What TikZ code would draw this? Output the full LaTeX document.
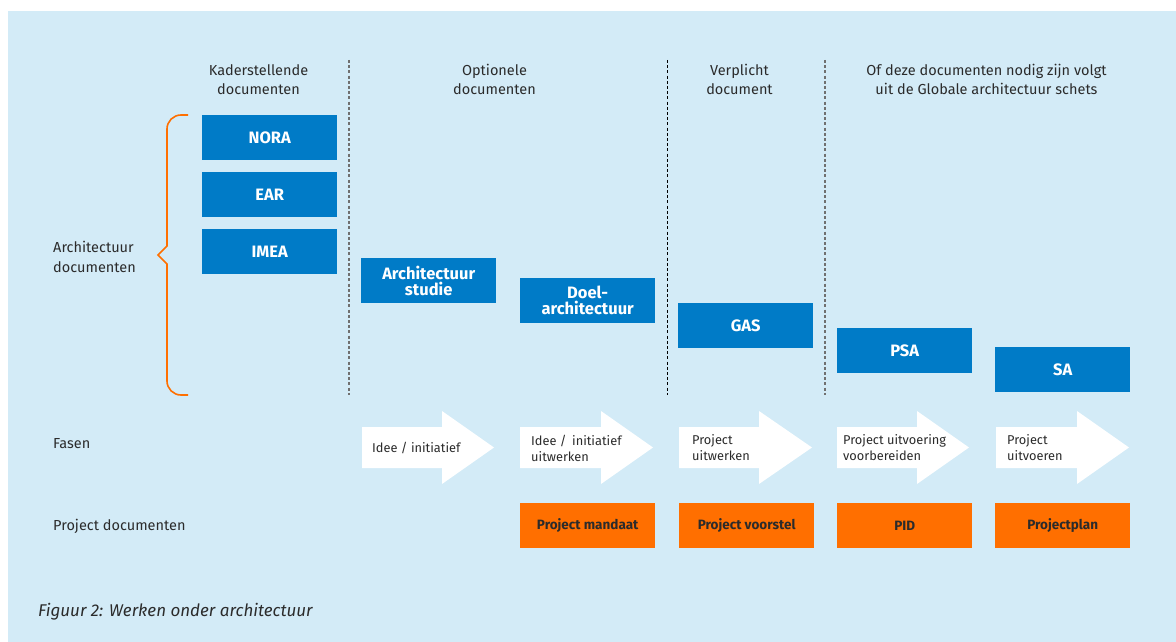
\documentclass[tikz,border=0pt]{standalone}
\usepackage{fontspec}
\setmainfont{Fira Sans}
\definecolor{bgblue}{HTML}{D3EBF7}
\definecolor{boxblue}{HTML}{007BC7}
\definecolor{boxorange}{HTML}{FF6F00}
\definecolor{txt}{HTML}{2B2B2B}
\definecolor{dashgray}{HTML}{707070}
\tikzset{
  archbox/.style={fill=boxblue, text=white, font=\fontsize{16.5}{18}\selectfont\bfseries, align=center, inner sep=0pt, minimum width=135pt, minimum height=45pt, anchor=north west},
  projbox/.style={fill=boxorange, text=txt, font=\fontsize{13.5}{15}\selectfont\bfseries, inner sep=0pt, minimum width=135pt, minimum height=45pt, anchor=north west},
  header/.style={text=txt, font=\fontsize{14.5}{19}\selectfont, align=center},
  sidelabel/.style={text=txt, font=\fontsize{14.5}{19.5}\selectfont, align=left, anchor=west, inner sep=0pt},
  phasetext/.style={text=txt, font=\fontsize{12.8}{16}\selectfont, align=left, anchor=west, inner sep=0pt},
  phasearrow/.style={fill=white, draw=none},
  divider/.style={dashgray, line width=1.2pt, dash pattern=on 3pt off 2.2pt},
  bracestyle/.style={boxorange, line width=1.6pt, line join=miter}
}
\begin{document}
\begin{tikzpicture}[x=1pt,y=-1pt]
\useasboundingbox (0,0) rectangle (1176,642);
\fill[white] (0,0) rectangle (1176,642);
\fill[bgblue] (8,11) rectangle (1176,642);

% dividers
\coordinate (d1t) at (349,60); \coordinate (d1b) at (349,395);
\coordinate (d2t) at (667.5,60); \coordinate (d2b) at (667.5,395);
\coordinate (d3t) at (825,60); \coordinate (d3b) at (825,395);
\draw[divider] (d1t) -- (d1b);
\draw[divider, black, line width=1pt] (d2t) -- (d2b);
\draw[divider] (d3t) -- (d3b);

% headers
\node[header] (h1) at (258.5,79.5) {Kaderstellende\\documenten};
\node[header] (h2) at (494.5,79.5) {Optionele\\documenten};
\node[header] (h3) at (739.5,79.5) {Verplicht\\document};
\node[header] (h4) at (986.5,79.5) {Of deze documenten nodig zijn volgt\\uit de Globale architectuur schets};

% side labels
\node[sidelabel] (lab1) at (53,257) {Architectuur\\documenten};
\node[sidelabel] (lab2) at (53,444) {Fasen};
\node[sidelabel] (lab3) at (53,526) {Project documenten};

% brace
\coordinate (bt) at (188,115);
\coordinate (bb) at (188,395);
\coordinate (btip) at (158,255);
\draw[bracestyle] (bt) [rounded corners=14pt] -- (167,115) -- (167,200) [sharp corners] -- (167,246) -- (btip) -- (167,264) -- (167,300) [rounded corners=14pt] -- (167,395) -- (bb);

% architecture boxes
\node[archbox] (nora) at (202,115) {NORA};
\node[archbox] (ear) at (202,172) {EAR};
\node[archbox] (imea) at (202,229) {IMEA};
\node[archbox] (as) at (361,258) {Architectuur\\[-2pt]studie};
\node[archbox] (doel) at (520,278) {Doel-\\[-2pt]architectuur};
\node[archbox] (gas) at (678,303) {GAS};
\node[archbox] (psa) at (837,328) {PSA};
\node[archbox] (sa) at (995,347) {SA};

% phase arrows
\foreach \xa/\xh/\xt in {362/442/494, 520/601/653, 679/759/812, 837/917/969, 996/1077/1129}{
  \fill[phasearrow] (\xa,427) -- (\xh,427) -- (\xh,411) -- (\xt,447.5) -- (\xh,484) -- (\xh,468) -- (\xa,468) -- cycle;
}
\node[phasetext] (f1) at (372,447.5) {Idee / initiatief};
\node[phasetext] (f2) at (531,448) {Idee /\,\ initiatief\\uitwerken};
\node[phasetext] (f3) at (692,448) {Project\\uitwerken};
\node[phasetext] (f4) at (843,448) {Project uitvoering\\voorbereiden};
\node[phasetext] (f5) at (1007,448) {Project\\uitvoeren};

% project documents
\node[projbox] (pm) at (520,503) {Project mandaat};
\node[projbox] (pv) at (679,503) {Project voorstel};
\node[projbox] (pid) at (837,503) {PID};
\node[projbox] (pp) at (995,503) {Projectplan};

% caption
\node[text=txt, font=\fontsize{17}{20}\selectfont\itshape, anchor=west, inner sep=0pt] (cap) at (38,612) {Figuur 2: Werken onder architectuur};
\end{tikzpicture}
\end{document}
